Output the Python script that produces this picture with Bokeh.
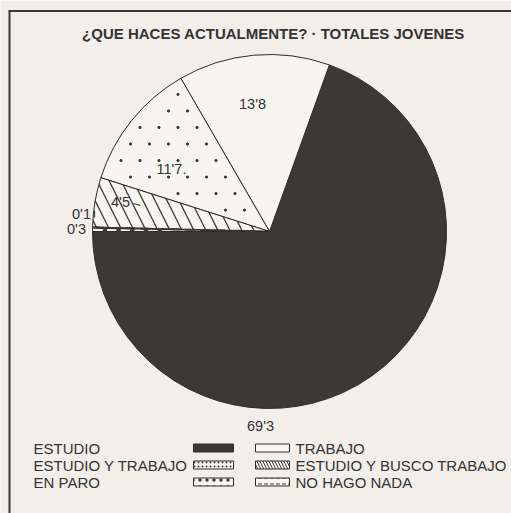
import numpy as np
from bokeh.plotting import figure
from bokeh.models import Range1d, ColumnDataSource
from bokeh.core.properties import value
from bokeh.embed import file_html
from bokeh.resources import INLINE

# ---------------- data ----------------
title = "¿QUE HACES ACTUALMENTE? · TOTALES JOVENES"
categories = ["ESTUDIO", "TRABAJO", "ESTUDIO Y TRABAJO",
              "ESTUDIO Y BUSCO TRABAJO", "NO HAGO NADA", "EN PARO"]
values = [69.3, 13.8, 11.7, 4.5, 0.1, 0.3]
value_labels = ["69'3", "13'8", "11'7.", "4'5", "0'1", "0'3"]

legend_left = ["ESTUDIO", "ESTUDIO Y TRABAJO", "EN PARO"]
legend_right = ["TRABAJO", "ESTUDIO Y BUSCO TRABAJO", "NO HAGO NADA"]

# ---------------- styles ----------------
BG = "#f2efe8"
DARK = "#3b3934"
PAPER = "#f7f5f0"
FONT = value("Liberation Sans")
styles = {
    "ESTUDIO": dict(fill=DARK, hatch="blank", scale=10, weight=1),
    "TRABAJO": dict(fill=PAPER, hatch="blank", scale=10, weight=1),
    "ESTUDIO Y TRABAJO": dict(fill=PAPER, hatch="blank", scale=10, weight=1),
    "ESTUDIO Y BUSCO TRABAJO": dict(fill=PAPER, hatch="left_diagonal_line", scale=24, weight=1.3),
    "NO HAGO NADA": dict(fill=PAPER, hatch="blank", scale=5, weight=1),
    "EN PARO": dict(fill=PAPER, hatch="blank", scale=6, weight=1),
}
swatch_styles = {
    "ESTUDIO": dict(fill=DARK, hatch="blank", scale=10, weight=1),
    "TRABAJO": dict(fill=PAPER, hatch="blank", scale=10, weight=1),
    "ESTUDIO Y TRABAJO": dict(fill=PAPER, hatch="dot", scale=4, weight=1),
    "ESTUDIO Y BUSCO TRABAJO": dict(fill=PAPER, hatch="left_diagonal_line", scale=6, weight=1),
    "NO HAGO NADA": dict(fill=PAPER, hatch="horizontal_dash", scale=6, weight=1),
    "EN PARO": dict(fill=PAPER, hatch="dot", scale=7, weight=1.5),
}

W, H = 511, 513
CX, CY, R = 269, 282, 177
TWO_PI = 2 * np.pi

p = figure(width=W, height=H, output_backend="svg", toolbar_location=None,
           x_range=Range1d(0, W), y_range=Range1d(0, H), min_border=0,
           background_fill_color=BG, border_fill_color=BG, outline_line_color=None)
p.axis.visible = False
p.grid.visible = False

# frame lines
p.segment(x0=[9, 8], y0=[0, 502.5], x1=[9, W], y1=[502.5, 502.5],
          line_color="#3a3a3a", line_width=2)

# title
p.text(x=[273], y=[480], text=[title], text_font=FONT,
       text_font_style="bold", text_font_size="15px", text_color="#333333",
       text_align="center", text_baseline="middle")

# pie
vals = np.array(values, dtype=float)
frac = vals / vals.sum()
ends = np.pi + TWO_PI * np.cumsum(frac)
starts = np.concatenate([[np.pi], ends[:-1]])
src = ColumnDataSource(dict(
    start=starts, end=ends,
    fill=[styles[c]["fill"] for c in categories],
    hatch=[styles[c]["hatch"] for c in categories],
    scale=[styles[c]["scale"] for c in categories],
    weight=[styles[c]["weight"] for c in categories],
))
p.wedge(x=CX, y=CY, radius=R, start_angle="start", end_angle="end", source=src,
        fill_color="fill", hatch_pattern="hatch", hatch_scale="scale",
        hatch_weight="weight", hatch_color=DARK,
        line_color="#2e2c28", line_width=1)

# sparse dot texture for ESTUDIO Y TRABAJO (lattice clipped to its slice)
i_et = categories.index("ESTUDIO Y TRABAJO")
a0, span = starts[i_et], ends[i_et] - starts[i_et]
step = 19.0
dx, dy = [], []
for row, yy in enumerate(np.arange(CY - R, CY + R, step * 0.87)):
    off = (row % 2) * step / 2
    for xx in np.arange(CX - R + off, CX + R, step):
        r = np.hypot(xx - CX, yy - CY)
        rel = (np.arctan2(yy - CY, xx - CX) - a0) % TWO_PI
        if 0.14 * R < r < 0.95 * R and 0.03 < rel < span - 0.03:
            dx.append(xx)
            dy.append(yy)
p.scatter(dx, dy, size=2.3, color=DARK)

# NO HAGO NADA: dashes along its slice
i_nn = categories.index("NO HAGO NADA")
am2 = (starts[i_nn] + ends[i_nn]) / 2
p.line([CX + 0.08 * R * np.cos(am2), CX + 0.99 * R * np.cos(am2)],
       [CY + 0.08 * R * np.sin(am2), CY + 0.99 * R * np.sin(am2)],
       line_color=DARK, line_width=2, line_dash="10 5")

# EN PARO: row of dots along its slice
i_ep = categories.index("EN PARO")
am = (starts[i_ep] + ends[i_ep]) / 2
rr = R * np.linspace(0.62, 0.93, 5)
p.scatter(CX + rr * np.cos(am), CY + rr * np.sin(am), size=3.5, color=DARK)

# value labels (hand-placed as in the original)
label_pos = [(260, 88), (252, 410), (171, 345), (120, 312), (81, 300), (76, 285)]
p.text(x=[q[0] for q in label_pos], y=[q[1] for q in label_pos], text=value_labels,
       text_font=FONT, text_font_size="14.5px",
       text_color="#333333", text_align="center", text_baseline="middle")
# small leader marks
p.segment(x0=[133, 94], y0=[310, 296], x1=[140, 94], y1=[308, 303],
          line_color=DARK, line_width=1.2)

# legend
rows_y = [65, 48, 31]
p.text(x=[33] * 3, y=rows_y, text=legend_left, text_font=FONT,
       text_font_size="15px", text_color="#333333", text_align="left",
       text_baseline="middle")
p.text(x=[295] * 3, y=rows_y, text=legend_right, text_font=FONT,
       text_font_size="15px", text_color="#333333", text_align="left",
       text_baseline="middle")

sw = dict(
    x=[213] * 3 + [272] * 3,
    y=[r + 0.5 for r in rows_y] * 2,
    w=[40] * 3 + [34] * 3,
    fill=[swatch_styles[c]["fill"] for c in legend_left + legend_right],
    hatch=[swatch_styles[c]["hatch"] for c in legend_left + legend_right],
    scale=[swatch_styles[c]["scale"] for c in legend_left + legend_right],
    weight=[swatch_styles[c]["weight"] for c in legend_left + legend_right],
)
p.rect(x="x", y="y", width="w", height=8, source=ColumnDataSource(sw),
       fill_color="fill", hatch_pattern="hatch", hatch_scale="scale",
       hatch_weight="weight", hatch_color=DARK, line_color="#2e2c28", line_width=1)

html = file_html(p, INLINE)
html = html.replace("<body>", '<body style="background:%s">' % BG, 1)
open("out.html", "w").write(html)
